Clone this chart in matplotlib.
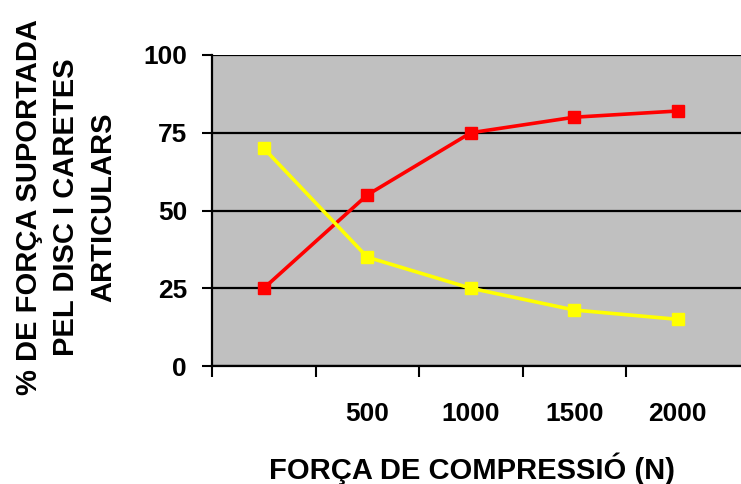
import matplotlib
matplotlib.use('Agg')
import matplotlib.pyplot as plt

# dades: % de força suportada segons la força de compressió
forces = ['', '500', '1000', '1500', '2000']
disc = [25, 55, 75, 80, 82]
caretes = [70, 35, 25, 18, 15]

plt.rcParams['font.family'] = ['Liberation Sans', 'DejaVu Sans']
plt.rcParams['font.weight'] = 'bold'

fig = plt.figure(figsize=(7.41, 4.84), dpi=100)
W, H = 741, 484
ax = fig.add_axes([212/W, 1-366/H, (741-212)/W, (366-55)/H])
ax.set_facecolor('#C0C0C0')

x = list(range(len(forces)))
ax.plot(x, disc, color='#FF0000', lw=2.6, marker='s', ms=9, zorder=3)
ax.plot(x, caretes, color='#FFFF00', lw=2.6, marker='s', ms=9, zorder=3)

ax.set_ylim(0, 100)
ax.set_xlim(-0.5, 4.61)
ax.set_yticks([0, 25, 50, 75, 100])
ax.yaxis.grid(True, color='black', lw=1.6)
ax.set_axisbelow(True)

# marques a les vores de categoria, etiquetes al centre
ax.set_xticks([i - 0.5 for i in range(len(forces))])
ax.set_xticklabels([])
ax.set_xticks(x, minor=True)
ax.set_xticklabels(forces, minor=True)
ax.tick_params(axis='x', which='major', direction='out', length=8, width=1.5)
ax.tick_params(axis='x', which='minor', length=0, pad=26, labelsize=19)
ax.tick_params(axis='y', direction='out', length=7, width=1.5, pad=11, labelsize=19)

for s in ['top', 'right']:
    ax.spines[s].set_visible(False)
for s in ['left', 'bottom']:
    ax.spines[s].set_linewidth(1.6)

fig.text(472/W, 1-479/H, 'FORÇA DE COMPRESSIÓ (N)', ha='center', va='baseline',
         fontsize=21, fontweight='bold')
fig.text(66/W, 1-207/H, '% DE FORÇA SUPORTADA\nPEL DISC I CARETES\nARTICULARS',
         ha='center', va='center', rotation=90, multialignment='center',
         fontsize=21, fontweight='bold', linespacing=1.42)

fig.savefig('out.png', dpi=100)
